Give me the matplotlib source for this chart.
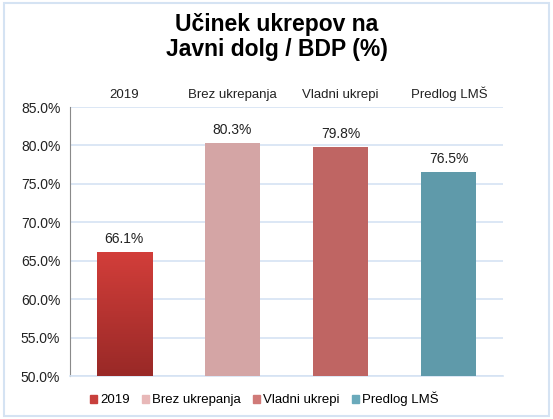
import numpy as np
import matplotlib.pyplot as plt
from matplotlib.colors import LinearSegmentedColormap
from matplotlib.patches import Rectangle

plt.rcParams['font.family'] = ['Liberation Sans', 'DejaVu Sans']

# podatki
categories = ['2019', 'Brez ukrepanja', 'Vladni ukrepi', 'Predlog LMŠ']
values = [66.1, 80.3, 79.8, 76.5]
bar_colors = ['#C43A36', '#D4A5A5', '#BF6563', '#5F9AAA']
legend_colors = ['#C8403C', '#E8B8B8', '#D07A78', '#6AAABB']
yticks = [50, 55, 60, 65, 70, 75, 80, 85]

fig = plt.figure(figsize=(5.53, 4.19), dpi=100)
ax = fig.add_axes([70/553, 1 - 376/419, 433/553, 269/419])

x = np.arange(len(categories))
bars = ax.bar(x, np.array(values) - 50, bottom=50, width=0.51,
              color=bar_colors, zorder=3)

# gradient na prvem stolpcu
grad = LinearSegmentedColormap.from_list('g', ['#992927', '#D23E3A'])
b0 = bars[0]
img = ax.imshow(np.linspace(0, 1, 100).reshape(-1, 1), cmap=grad, origin='lower',
                aspect='auto', zorder=4,
                extent=[b0.get_x(), b0.get_x() + b0.get_width(), 50, values[0]])
img.set_clip_path(b0)

for xi, v in zip(x, values):
    ax.text(xi, v + 0.8, f'{v:.1f}%', ha='center', va='bottom', fontsize=10,
            color='#222222', zorder=5)

ax.set_xlim(-0.5, len(categories) - 0.5)
ax.set_ylim(50, 85)
ax.set_yticks(yticks)
ax.set_yticklabels([f'{t:.1f}%' for t in yticks], fontsize=10, color='#222222')
ax.yaxis.grid(True, color='#D5E3F3', linewidth=1.2, zorder=0)
ax.tick_params(axis='y', length=0, pad=7)

ax.xaxis.tick_top()
ax.set_xticks(x)
ax.set_xticklabels(categories, fontsize=9.5, color='#222222')
ax.tick_params(axis='x', length=0, pad=4)

for s in ['top', 'right']:
    ax.spines[s].set_visible(False)
ax.spines['left'].set_color('#8A8A8A')
ax.spines['bottom'].set_color('#D5E3F3')
ax.spines['bottom'].set_linewidth(1.2)

fig.text(0.5, 1 - 37/419, 'Učinek ukrepov na\nJavni dolg / BDP (%)', ha='center',
         va='center', fontsize=16.5, fontweight='bold', linespacing=1.1)

handles = [plt.Rectangle((0, 0), 1, 1, color=c) for c in legend_colors]
fig.legend(handles, categories, loc='center', bbox_to_anchor=(0.478, 1 - 399/419),
           ncol=4, frameon=False, fontsize=9.5, handlelength=0.55, handleheight=0.55,
           handletextpad=0.25, columnspacing=0.9)

fig.patches.append(Rectangle((4/553, 3/419), 545/553, 413/419, transform=fig.transFigure,
                             fill=False, edgecolor='#D5E3F3', linewidth=1.5))

fig.savefig('out.png', dpi=100)
